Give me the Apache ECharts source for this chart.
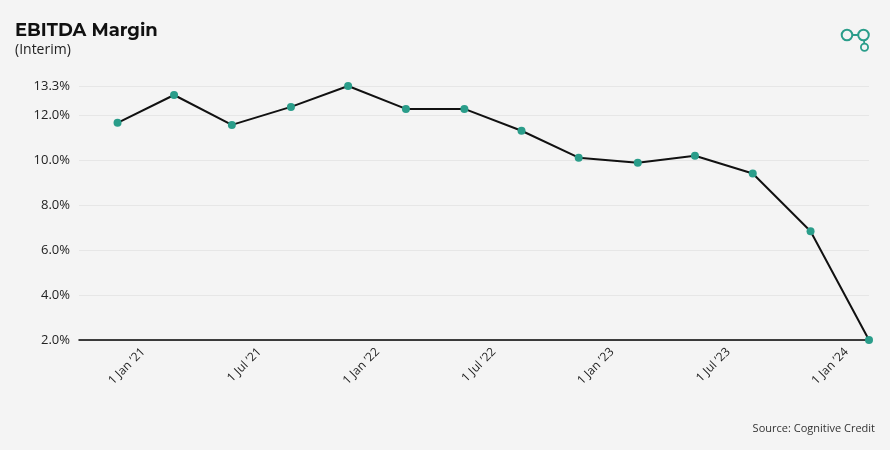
<!DOCTYPE html>
<html>
<head>
<meta charset="utf-8">
<script src="https://cdn.jsdelivr.net/npm/echarts@6/dist/echarts.min.js"></script>
<style>
  html, body { margin: 0; padding: 0; background: #f4f4f4; }
  #myChart { width: 890px; height: 450px; }
</style>
</head>
<body>
<div id="myChart"></div>
<script>
// quarterly points, dates
var dates = ['2020-11-22', '2021-02-18', '2021-05-19', '2021-08-19', '2021-11-16', '2022-02-14', '2022-05-16',
  '2022-08-13', '2022-11-10', '2023-02-10', '2023-05-10', '2023-08-08', '2023-11-06', '2024-02-05']
var margin = [11.66, 12.9, 11.57, 12.37, 13.3, 12.28, 12.28, 11.31, 10.11, 9.89, 10.2, 9.41, 6.84, 2.0]
var xTicks = ['2021-01-01', '2021-07-01', '2022-01-01', '2022-07-01', '2023-01-01', '2023-07-01', '2024-01-01']
var months = ['Jan', 'Feb', 'Mar', 'Apr', 'May', 'Jun', 'Jul', 'Aug', 'Sep', 'Oct', 'Nov', 'Dec']

var font = '"Open Sans", sans-serif'
var teal = '#2a9d8a'

function ts (s) { return new Date(s + 'T00:00:00Z').getTime() }

var myChart = echarts.init(document.getElementById('myChart'))
myChart.setOption({
  backgroundColor: '#f4f4f4',
  animation: false,
  title: {
    text: 'EBITDA Margin',
    subtext: '(Interim)',
    left: 10,
    top: 17,
    itemGap: 3,
    textStyle: { fontFamily: 'Montserrat, "Open Sans", sans-serif', fontWeight: 'bold', fontSize: 18, color: '#111' },
    subtextStyle: { fontFamily: font, fontSize: 14, color: '#222' }
  },
  grid: { left: 79, right: 21, top: 86, bottom: 110 },
  // plain value axis holding timestamps, labels placed on the 1st of Jan / Jul
  xAxis: {
    type: 'value',
    min: ts('2020-09-23'),
    max: ts('2024-02-05'),
    axisLine: { lineStyle: { color: '#000', width: 1.5 } },
    axisTick: { show: false, customValues: xTicks.map(ts) },
    splitLine: { show: false },
    axisLabel: {
      customValues: xTicks.map(ts),
      rotate: 45,
      margin: 10,
      fontFamily: font,
      fontSize: 12,
      color: '#222',
      formatter: function (v) {
        var d = new Date(v)
        return d.getUTCDate() + ' ' + months[d.getUTCMonth()] + ' \u2019' + String(d.getUTCFullYear()).slice(2)
      }
    }
  },
  yAxis: {
    type: 'value',
    min: 2,
    max: 13.3,
    interval: 2,
    axisLine: { show: false },
    axisTick: { show: false },
    splitLine: { lineStyle: { color: '#e6e6e6', width: 1 } },
    axisLabel: {
      margin: 9,
      fontFamily: font,
      fontSize: 13,
      color: '#222',
      formatter: function (v) { return v.toFixed(1) + '%' }
    }
  },
  series: [{
    type: 'line',
    data: dates.map(function (d, i) { return [ts(d), margin[i]] }),
    symbol: 'circle',
    symbolSize: 8,
    showAllSymbol: true,
    clip: false,
    lineStyle: { color: '#111', width: 2 },
    itemStyle: { color: teal }
  }],
  graphic: [
    { type: 'circle', shape: { cx: 847, cy: 35, r: 5.3 }, style: { fill: 'none', stroke: teal, lineWidth: 2 } },
    { type: 'circle', shape: { cx: 863.5, cy: 35, r: 5.3 }, style: { fill: 'none', stroke: teal, lineWidth: 2 } },
    { type: 'circle', shape: { cx: 864.5, cy: 47.3, r: 3.6 }, style: { fill: 'none', stroke: teal, lineWidth: 1.8 } },
    { type: 'line', shape: { x1: 852.3, y1: 35, x2: 858.2, y2: 35 }, style: { stroke: teal, lineWidth: 2 } },
    { type: 'line', shape: { x1: 864, y1: 40.3, x2: 864.3, y2: 43.7 }, style: { stroke: teal, lineWidth: 1.8 } },
    {
      type: 'text',
      right: 15,
      top: 423,
      style: { text: 'Source: Cognitive Credit', fontFamily: font, fontSize: 11, fill: '#333' }
    }
  ]
})
</script>
</body>
</html>
